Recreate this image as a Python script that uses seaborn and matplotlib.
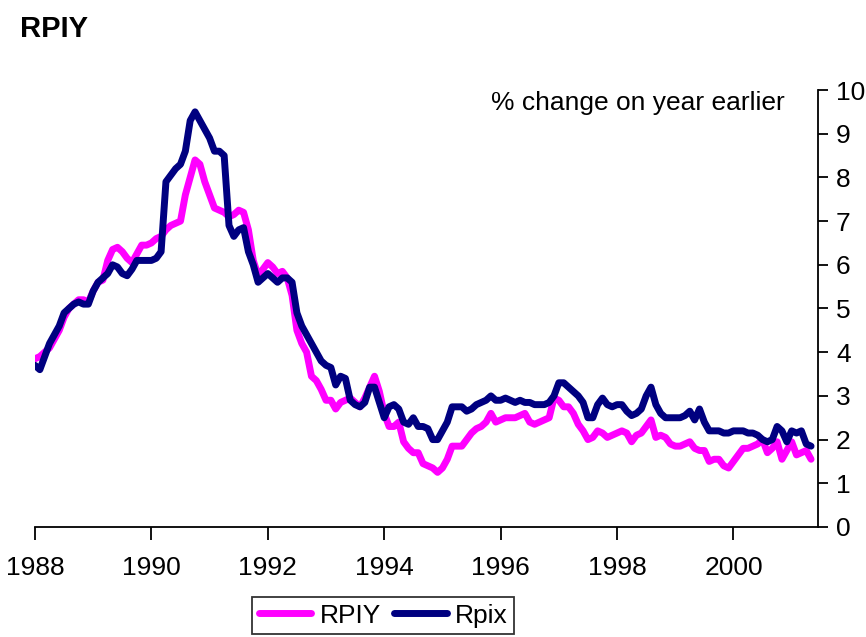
import numpy as np
import pandas as pd
import matplotlib
matplotlib.use("Agg")
import matplotlib.pyplot as plt
import seaborn as sns

# Monthly data, Jan 1988 - May 2001 (% change on year earlier)
rpiy = [
    3.85, 3.9, 4.0, 4.1, 4.3, 4.5, 4.8, 5.0, 5.1, 5.2, 5.2, 5.15,
    5.4, 5.6, 5.65, 6.1, 6.35, 6.4, 6.3, 6.15, 6.05, 6.25, 6.45, 6.45,
    6.5, 6.6, 6.65, 6.8, 6.9, 6.95, 7.0, 7.6, 8.0, 8.4, 8.3, 7.9,
    7.6, 7.3, 7.25, 7.2, 7.1, 7.15, 7.25, 7.2, 6.8, 6.1, 5.75, 5.9,
    6.05, 5.95, 5.8, 5.85, 5.7, 5.3, 4.5, 4.2, 4.0, 3.45, 3.35, 3.15,
    2.9, 2.9, 2.7, 2.85, 2.9, 2.95, 2.85, 2.75, 2.95, 3.2, 3.45, 3.1,
    2.6, 2.3, 2.3, 2.4, 1.95, 1.8, 1.7, 1.7, 1.45, 1.4, 1.35, 1.25,
    1.35, 1.55, 1.85, 1.85, 1.85, 2.0, 2.15, 2.25, 2.3, 2.4, 2.6, 2.4,
    2.45, 2.5, 2.5, 2.5, 2.55, 2.6, 2.4, 2.35, 2.4, 2.45, 2.5, 2.95,
    2.9, 2.75, 2.75, 2.6, 2.35, 2.2, 2.0, 2.05, 2.2, 2.15, 2.05, 2.1,
    2.15, 2.2, 2.15, 1.95, 2.1, 2.15, 2.3, 2.45, 2.05, 2.1, 2.05, 1.9,
    1.85, 1.85, 1.9, 1.95, 1.8, 1.75, 1.75, 1.5, 1.55, 1.55, 1.4, 1.35,
    1.5, 1.65, 1.8, 1.8, 1.85, 1.9, 2.0, 1.7, 1.8, 1.95, 1.55, 1.75,
    1.95, 1.65, 1.7, 1.75, 1.55,
]
rpix = [
    3.7, 3.6, 3.9, 4.2, 4.4, 4.6, 4.9, 5.0, 5.1, 5.15, 5.1, 5.1,
    5.4, 5.6, 5.7, 5.8, 6.0, 5.95, 5.8, 5.75, 5.9, 6.1, 6.1, 6.1,
    6.1, 6.15, 6.3, 7.9, 8.05, 8.2, 8.3, 8.6, 9.3, 9.5, 9.3, 9.1,
    8.9, 8.6, 8.6, 8.5, 6.9, 6.65, 6.8, 6.85, 6.3, 6.0, 5.6, 5.7,
    5.8, 5.7, 5.6, 5.7, 5.7, 5.6, 4.9, 4.6, 4.4, 4.2, 4.0, 3.8,
    3.7, 3.65, 3.25, 3.45, 3.4, 2.9, 2.8, 2.75, 2.85, 3.2, 3.2, 2.85,
    2.5, 2.75, 2.8, 2.7, 2.4, 2.35, 2.5, 2.3, 2.3, 2.25, 2.0, 2.0,
    2.2, 2.4, 2.75, 2.75, 2.75, 2.65, 2.7, 2.8, 2.85, 2.9, 3.0, 2.9,
    2.9, 2.95, 2.9, 2.85, 2.9, 2.85, 2.85, 2.8, 2.8, 2.8, 2.85, 3.0,
    3.3, 3.3, 3.2, 3.1, 3.0, 2.85, 2.5, 2.5, 2.8, 2.95, 2.8, 2.75,
    2.8, 2.8, 2.65, 2.55, 2.6, 2.7, 3.0, 3.2, 2.8, 2.6, 2.5, 2.5,
    2.5, 2.5, 2.55, 2.65, 2.45, 2.7, 2.4, 2.2, 2.2, 2.2, 2.15, 2.15,
    2.2, 2.2, 2.2, 2.15, 2.15, 2.1, 2.0, 1.95, 2.0, 2.3, 2.2, 1.95,
    2.2, 2.15, 2.2, 1.9, 1.85,
]
dates = pd.date_range("1988-01-01", periods=len(rpiy), freq="MS")
year_ticks = [1988, 1990, 1992, 1994, 1996, 1998, 2000]

df = pd.DataFrame({"date": dates.year + (dates.month - 1) / 12,
                   "RPIY": rpiy, "Rpix": rpix})

sns.set_style("white")
plt.rcParams["font.family"] = ["Liberation Sans", "DejaVu Sans"]
plt.rcParams["text.color"] = "black"
plt.rcParams["xtick.color"] = "black"
plt.rcParams["ytick.color"] = "black"

fig = plt.figure(figsize=(8.66, 6.37), dpi=100)
ax = fig.add_axes([0.0404, 0.1727, 0.904, 0.686])

sns.lineplot(x="date", y="RPIY", data=df, ax=ax, color="#FF00FF", lw=4, label="RPIY")
sns.lineplot(x="date", y="Rpix", data=df, ax=ax, color="#000080", lw=4, label="Rpix")

ax.set_xlim(1988, 2001.45)
ax.set_ylim(0, 10)
ax.set_xticks(year_ticks)
ax.set_xticklabels([str(y) for y in year_ticks], fontsize=19)
ax.set_yticks(range(0, 11))
ax.yaxis.tick_right()
ax.tick_params(axis="y", direction="out", length=7, width=1.3, labelsize=19, pad=6, right=True)
ax.tick_params(axis="x", direction="out", length=9, width=1.3, pad=12, bottom=True)
ax.set_xlabel("")
ax.set_ylabel("")
for s in ["left", "top"]:
    ax.spines[s].set_visible(False)
for s in ["right", "bottom"]:
    ax.spines[s].set_color("black")
    ax.spines[s].set_linewidth(1.3)

ax.text(785 / 866, 1 - 103 / 637, "% change on year earlier", transform=fig.transFigure,
        ha="right", va="center", fontsize=19)

fig.text(20 / 866, 1 - 29 / 637, "RPIY", fontsize=21, fontweight="bold", va="center")

ax.get_legend().remove()
h, l = ax.get_legend_handles_labels()
for hd in h:
    hd.set_linewidth(5)
leg = fig.legend(h, l, loc="upper center", bbox_to_anchor=(383 / 866, 1 - 597 / 637),
                 ncol=2, fontsize=19, frameon=True, fancybox=False, edgecolor="black",
                 handlelength=2.0, handletextpad=0.3, columnspacing=0.5,
                 borderpad=0.25, borderaxespad=0)
leg.get_frame().set_linewidth(1.3)

fig.savefig("out.png", dpi=100)
